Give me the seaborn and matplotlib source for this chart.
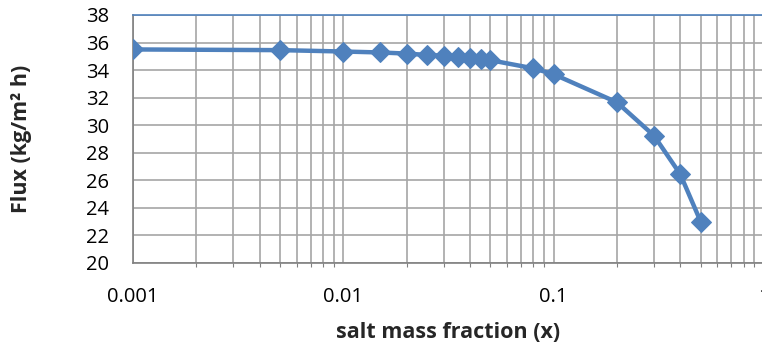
import matplotlib
matplotlib.use("Agg")
import matplotlib.pyplot as plt
import matplotlib.ticker as mticker
import seaborn as sns
import pandas as pd

x_values = [0.001, 0.005, 0.01, 0.015, 0.02, 0.025, 0.03, 0.035, 0.04, 0.045, 0.05,
            0.08, 0.1, 0.2, 0.3, 0.4, 0.5]
flux_values = [35.5, 35.45, 35.35, 35.28, 35.2, 35.1, 35.05, 34.95, 34.88, 34.8, 34.72,
               34.13, 33.7, 31.66, 29.24, 26.44, 23.0]
x_ticks = [0.001, 0.01, 0.1, 1]
x_tick_labels = ["0.001", "0.01", "0.1", "1"]
y_ticks = list(range(20, 39, 2))

df = pd.DataFrame({"x": x_values, "flux": flux_values})

sns.set_theme(style="white")
plt.rcParams["font.family"] = ["Open Sans", "DejaVu Sans"]

fig = plt.figure(figsize=(7.62, 3.54), dpi=100)
ax = fig.add_axes([133/762, 1-263/354, (764-133)/762, (263-15)/354])

grid_c = "#A6A6A6"
blue = "#4F81BD"

sns.lineplot(data=df, x="x", y="flux", ax=ax, color=blue, linewidth=3.2,
             marker="D", markersize=10.5, markeredgecolor=blue, markerfacecolor=blue,
             zorder=3)

ax.set_xscale("log")
ax.set_xlim(0.001, 1)
ax.set_ylim(20, 38)
ax.set_xticks(x_ticks)
ax.set_xticklabels(x_tick_labels)
ax.xaxis.set_minor_locator(mticker.LogLocator(base=10, subs=range(2, 10)))
ax.xaxis.set_minor_formatter(mticker.NullFormatter())
ax.set_yticks(y_ticks)

ax.grid(True, which="major", axis="both", color=grid_c, linewidth=1.2)
ax.grid(True, which="minor", axis="x", color=grid_c, linewidth=1.2)

for s in ["left", "bottom"]:
    ax.spines[s].set_color("#808080")
    ax.spines[s].set_linewidth(1.2)
ax.spines["top"].set_color(blue)
ax.spines["top"].set_linewidth(1.2)
ax.spines["right"].set_visible(False)

ax.tick_params(axis="both", which="major", labelsize=14.5, colors="#808080",
               labelcolor="black", length=5, width=1.0, direction="out")
ax.tick_params(axis="x", which="major", pad=12)
ax.tick_params(axis="x", which="minor", colors="#808080", length=3, width=0.8,
               direction="out", bottom=True)
ax.tick_params(axis="y", which="major", pad=12)

ax.set_xlabel("salt mass fraction (x)", fontsize=15.5, fontweight="bold")
ax.set_ylabel("Flux (kg/m² h)", fontsize=15.5, fontweight="bold")
ax.xaxis.set_label_coords(0.5, (263-333)/248)
ax.yaxis.set_label_coords((22-133)/631, 0.5)
ax.xaxis.label.set_va("center")
ax.yaxis.label.set_va("center")

fig.savefig("out.png", dpi=100)
